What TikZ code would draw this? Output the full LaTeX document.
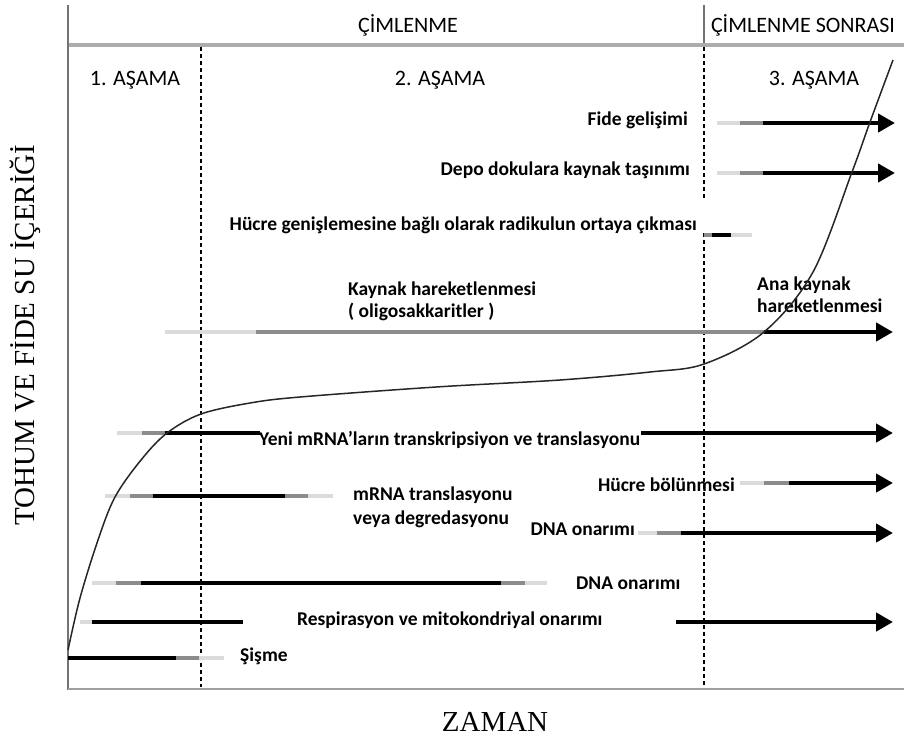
\documentclass[tikz,border=0pt]{standalone}
\usepackage{fontspec}
\setmainfont{Liberation Serif}
\newfontfamily\calfont{Carlito}
\usetikzlibrary{arrows.meta}
\definecolor{barlight}{gray}{0.86}
\definecolor{barmid}{gray}{0.55}
\definecolor{axgray}{gray}{0.45}
\begin{document}
\begin{tikzpicture}[x=1pt,y=-1pt,
  lab/.style={font=\calfont\bfseries\fontsize{19.5}{22}\selectfont, inner sep=0pt},
  hdr/.style={font=\calfont\fontsize{22}{26}\selectfont, inner sep=0pt},
  axlab/.style={font=\fontsize{29}{34}\selectfont, inner sep=0pt},
  seg/.style={line width=4.8pt},
  lt/.style={seg, draw=barlight},
  md/.style={seg, draw=barmid},
  bk/.style={seg, draw=black},
  arr/.style={seg, draw=black, -{Triangle[length=17pt,width=18pt]}},
  dline/.style={line width=1.2pt, dash pattern=on 4pt off 3pt},
]
\useasboundingbox (0,0) rectangle (904,740);

% frame
\draw[line width=4.5pt, gray!65] (68,45) -- (904,45);
\draw[line width=1.5pt, axgray] (68,5) -- (68,690);
\draw[line width=2.5pt, gray!75] (68,689) -- (904,689);
\draw[line width=1.2pt, axgray] (704,5) -- (704,43);
\draw[dline] (201,47) -- (201,687);
\draw[dline] (704,47) -- (704,198);
\draw[dline] (704,233) -- (704,687);

% headers
\node[hdr] (cim) at (408,25) {ÇİMLENME};
\node[hdr] (cims) at (803,25) {ÇİMLENME SONRASI};
\node[hdr] (a1) at (135,80) {1. AŞAMA};
\node[hdr] (a2) at (440,80) {2. AŞAMA};
\node[hdr] (a3) at (814,80) {3. AŞAMA};

% axis labels
\node[axlab, rotate=90] (ylab) at (25,335) {TOHUM VE FİDE SU İÇERİĞİ};
\node[axlab] (xlab) at (495,722) {ZAMAN};

% bars
% Fide gelisimi
\draw[lt] (717,123) -- (741,123);
\draw[md] (740,123) -- (764,123);
\draw[arr] (763,123) -- (895,123);
% Depo
\draw[lt] (717,173) -- (741,173);
\draw[md] (740,173) -- (764,173);
\draw[arr] (763,173) -- (895,173);
% radikul
\draw[md] (704,235) -- (713,235);
\draw[bk] (712,235) -- (732,235);
\draw[lt] (731,235) -- (752,235);
% Kaynak
\draw[lt] (165,332) -- (257,332);
\draw[md] (256,332) -- (765,332);
\draw[arr] (764,332) -- (893,332);
% Yeni mRNA
\draw[lt] (117,433) -- (143,433);
\draw[md] (142,433) -- (166,433);
\draw[bk] (165,433) -- (260,433);
\draw[arr] (641,433) -- (893,433);
% mRNA translasyonu
\draw[lt] (105,496) -- (131,496);
\draw[md] (130,496) -- (154,496);
\draw[bk] (153,496) -- (286,496);
\draw[md] (285,496) -- (309,496);
\draw[lt] (308,496) -- (333,496);
% Hucre bolunmesi
\draw[lt] (740,483) -- (765,483);
\draw[md] (764,483) -- (790,483);
\draw[arr] (789,483) -- (893,483);
% DNA right
\draw[lt] (638,533) -- (658,533);
\draw[md] (657,533) -- (682,533);
\draw[arr] (681,533) -- (893,533);
% DNA middle
\draw[lt] (92,583) -- (117,583);
\draw[md] (116,583) -- (142,583);
\draw[bk] (141,583) -- (502,583);
\draw[md] (501,583) -- (526,583);
\draw[lt] (525,583) -- (547,583);
% Respirasyon
\draw[lt] (80,622) -- (93,622);
\draw[bk] (92,622) -- (243,622);
\draw[arr] (676,622) -- (893,622);
% Sisme
\draw[bk] (68,658) -- (177,658);
\draw[md] (176,658) -- (200,658);
\draw[lt] (199,658) -- (224,658);

% labels
\node[lab, anchor=mid east] (l1) at (688,123) {Fide gelişimi};
\node[lab, anchor=mid east] (l2) at (690,173) {Depo dokulara kaynak taşınımı};
\node[lab, anchor=mid east] (l3) at (697,228) {Hücre genişlemesine bağlı olarak radikulun ortaya çıkması};
\node[lab, anchor=mid west] (l4) at (348,293) {Kaynak hareketlenmesi};
\node[lab, anchor=mid west] (l4b) at (348,315) {( oligosakkaritler )};
\node[lab, anchor=mid west] (l5) at (757,288) {Ana kaynak};
\node[lab, anchor=mid west] (l5b) at (757,310) {hareketlenmesi};
\node[lab, anchor=mid west] (l6) at (259,443) {Yeni mRNA’ların transkripsiyon ve translasyonu};
\node[lab, anchor=mid west] (l7) at (353,498) {mRNA translasyonu};
\node[lab, anchor=mid west] (l7b) at (353,522) {veya degredasyonu};
\node[lab, anchor=mid east] (l8) at (735,489) {Hücre bölünmesi};
\node[lab, anchor=mid east] (l9) at (635,533) {DNA onarımı};
\node[lab, anchor=mid west] (l10) at (576,587) {DNA onarımı};
\node[lab, anchor=mid west] (l11) at (297,623) {Respirasyon ve mitokondriyal onarımı};
\node[lab, anchor=mid west] (l12) at (240,659) {Şişme};

% water content curve
\draw[line width=1.5pt, black!85] plot[smooth, tension=0.55] coordinates {
 (68,650) (80,598) (98,540) (115,497) (141,460) (167,433) (201,414) (250,403)
 (300,397) (436,387) (560,380) (650,372) (704,364) (764,332) (813,272)
 (852,172) (870,122) (893,60)};
\end{tikzpicture}
\end{document}
